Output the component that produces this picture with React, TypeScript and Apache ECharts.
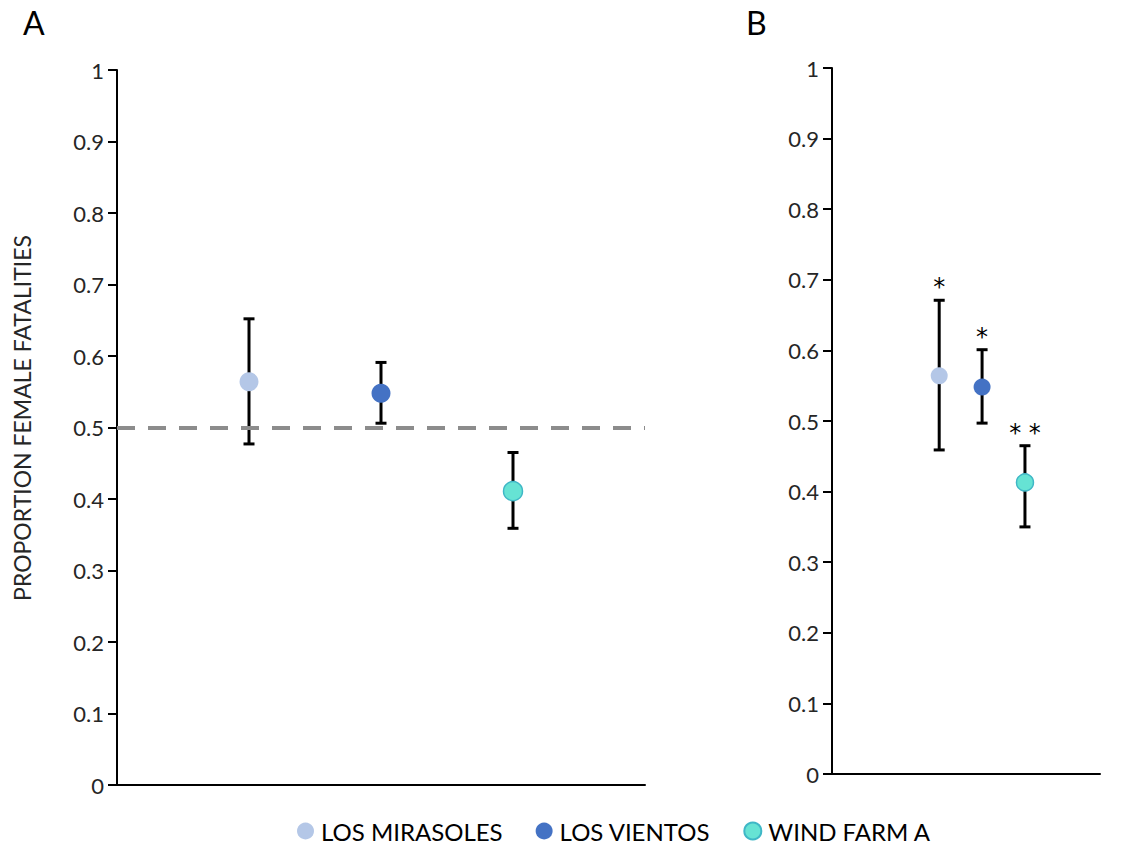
import React, { useEffect, useRef } from "react";
import * as echarts from "echarts";

const sites = ["LOS MIRASOLES", "LOS VIENTOS", "WIND FARM A"];
const xPos = [1, 2, 3];
const propA = [0.564, 0.548, 0.411];
const lowA = [0.477, 0.506, 0.359];
const highA = [0.652, 0.591, 0.465];
const propB = [0.564, 0.548, 0.413];
const lowB = [0.459, 0.497, 0.35];
const highB = [0.671, 0.601, 0.465];
const sigB = ["*", "*", "* *"];
const nullLine = 0.5;
const panelTitles = ["A", "B"];
const yLabel = "PROPORTION FEMALE FATALITIES";

const colors = ["#b4c7e7", "#4472c4", "#66e3d4"];
const borders = ["#b4c7e7", "#4472c4", "#3fb7c6"];
const FONT = "Lato, 'Open Sans', sans-serif";

export default function App() {
  const ref = useRef<HTMLDivElement>(null);
  useEffect(() => {
    if (!ref.current) return;
    const chart = echarts.init(ref.current, null, { renderer: "svg" });

    const yAxisBase = (gridIndex: number) => ({
      type: "value",
      gridIndex,
      min: 0,
      max: 1,
      interval: 0.1,
      axisLine: { show: true, onZero: false, lineStyle: { color: "#000", width: 2 } },
      axisTick: { show: true, length: 9, lineStyle: { color: "#000", width: 2 } },
      splitLine: { show: false },
      axisLabel: {
        margin: 13,
        color: "#262626",
        fontSize: 22,
        fontFamily: FONT,
        formatter: (v: number) => String(Math.round(v * 10) / 10),
      },
    });
    const xAxisBase = (gridIndex: number, min: number, max: number) => ({
      type: "value",
      gridIndex,
      min,
      max,
      axisLine: { show: true, onZero: false, lineStyle: { color: "#000", width: 2 } },
      axisTick: { show: false },
      axisLabel: { show: false },
      splitLine: { show: false },
    });

    const errRender = (sig: string[] | null) => (params: any, api: any) => {
      const x = api.value(0);
      const lo = api.value(1);
      const hi = api.value(2);
      const pHi = api.coord([x, hi]);
      const pLo = api.coord([x, lo]);
      const w = 5.5;
      const st = { stroke: "#000", lineWidth: 3 };
      const children: any[] = [
        { type: "line", shape: { x1: pHi[0], y1: pHi[1], x2: pLo[0], y2: pLo[1] }, style: st },
        { type: "line", shape: { x1: pHi[0] - w, y1: pHi[1], x2: pHi[0] + w, y2: pHi[1] }, style: st },
        { type: "line", shape: { x1: pLo[0] - w, y1: pLo[1], x2: pLo[0] + w, y2: pLo[1] }, style: st },
      ];
      if (sig) {
        children.push({
          type: "text",
          x: pHi[0],
          y: pHi[1] - 1,
          style: {
            text: sig[params.dataIndex],
            font: "24px 'DejaVu Sans', sans-serif",
            fill: "#000",
            align: "center",
            verticalAlign: "bottom",
          },
        });
      }
      return { type: "group", children };
    };

    const series: any[] = [];
    series.push({
      type: "custom",
      xAxisIndex: 0,
      yAxisIndex: 0,
      z: 1,
      clip: false,
      encode: { x: 0, y: [1, 2] },
      renderItem: errRender(null),
      data: xPos.map((x, i) => [x, lowA[i], highA[i]]),
      markLine: {
        silent: true,
        symbol: "none",
        label: { show: false },
        lineStyle: { color: "#8c8c8c", width: 4, type: [18, 13] },
        data: [{ yAxis: nullLine }],
      },
    });
    series.push({
      type: "custom",
      xAxisIndex: 1,
      yAxisIndex: 1,
      z: 1,
      clip: false,
      encode: { x: 0, y: [1, 2] },
      renderItem: errRender(sigB),
      data: xPos.map((x, i) => [x, lowB[i], highB[i]]),
    });
    sites.forEach((s, i) => {
      const itemStyle = {
        color: colors[i],
        borderColor: borders[i],
        borderWidth: i === 2 ? 1.5 : 0,
        opacity: 1,
      };
      series.push({
        type: "scatter",
        name: s,
        xAxisIndex: 0,
        yAxisIndex: 0,
        z: 3,
        symbol: "circle",
        symbolSize: 19,
        itemStyle,
        data: [[xPos[i], propA[i]]],
      });
      series.push({
        type: "scatter",
        name: s,
        xAxisIndex: 1,
        yAxisIndex: 1,
        z: 3,
        symbol: "circle",
        symbolSize: 17,
        itemStyle,
        data: [[xPos[i], propB[i]]],
      });
    });

    chart.setOption({
      animation: false,
      backgroundColor: "#fff",
      grid: [
        { left: 117, top: 70, width: 528, height: 715 },
        { left: 832, top: 68, width: 268, height: 706 },
      ],
      xAxis: [xAxisBase(0, 0, 4), xAxisBase(1, -1.5, 4.75)],
      yAxis: [yAxisBase(0), yAxisBase(1)],
      legend: {
        data: sites.map((s) => ({ name: s, icon: "circle" })),
        left: 292,
        top: 814,
        itemWidth: 17,
        itemHeight: 17,
        itemGap: 33,
        textStyle: {
          fontSize: 24,
          fontFamily: FONT,
          color: "#000",
          padding: [0, 0, 0, 2],
        },
      },
      graphic: [
        {
          type: "text",
          left: 23,
          top: 6,
          style: { text: panelTitles[0], font: `32px ${FONT}`, fill: "#000" },
        },
        {
          type: "text",
          left: 746,
          top: 6,
          style: { text: panelTitles[1], font: `32px ${FONT}`, fill: "#000" },
        },
        {
          type: "text",
          x: 22,
          y: 418,
          rotation: Math.PI / 2,
          style: {
            text: yLabel,
            font: `23px ${FONT}`,
            fill: "#262626",
            align: "center",
            verticalAlign: "middle",
          },
        },
      ],
      series,
    });
    return () => chart.dispose();
  }, []);
  return (
    <div
      ref={ref}
      style={{ position: "fixed", left: 0, top: 0, width: 1123, height: 848 }}
    />
  );
}
